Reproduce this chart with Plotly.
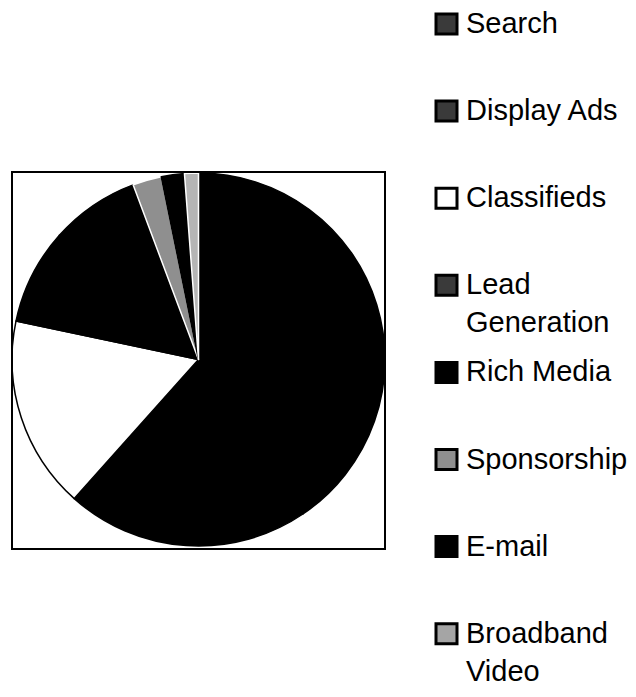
import plotly.graph_objects as go

labels = ["Search", "Display Ads", "Classifieds", "Lead Generation", "Rich Media",
          "Sponsorship", "E-mail", "Broadband Video"]
legend_text = ["Search", "Display Ads", "Classifieds", "Lead<br>Generation", "Rich Media",
               "Sponsorship", "E-mail", "Broadband<br>Video"]
values = [40.5, 21.1, 16.7, 8.3, 7.7, 2.5, 2.0, 1.2]
colors = ["#000000", "#000000", "#ffffff", "#000000", "#000000",
          "#8f8f8f", "#000000", "#b5b5b5"]
swatch_colors = ["#3a3a3a", "#3a3a3a", "#ffffff", "#3a3a3a", "#000000",
                 "#8f8f8f", "#000000", "#a5a5a5"]
edge_colors = ["#000000", "#000000", "#000000", "#000000", "#000000",
               "#ffffff", "#000000", "#ffffff"]

W, H = 636, 697
fig = go.Figure()
fig.add_trace(go.Pie(
    labels=labels, values=values, sort=False, direction="clockwise", rotation=0,
    marker=dict(colors=colors, line=dict(color=edge_colors, width=1.5)),
    textinfo="none", hoverinfo="label+percent", showlegend=False,
    domain=dict(x=[12 / W, 385 / W], y=[1 - 549 / H, 1 - 170 / H]),
))

shapes = [dict(type="rect", xref="paper", yref="paper",
               x0=12 / W, x1=385 / W, y0=1 - 549 / H, y1=1 - 172 / H,
               line=dict(color="black", width=2), fillcolor="rgba(0,0,0,0)")]
annotations = []
y_first, step = 24, 87.1
for i, (txt, col) in enumerate(zip(legend_text, swatch_colors)):
    yc = y_first + i * step
    shapes.append(dict(type="rect", xref="paper", yref="paper",
                       x0=436 / W, x1=457 / W, y0=1 - (yc + 10) / H, y1=1 - (yc - 10) / H,
                       line=dict(color="black", width=3), fillcolor=col))
    annotations.append(dict(xref="paper", yref="paper", x=464 / W, y=1 - (yc - 19) / H,
                            xanchor="left", yanchor="top", align="left", showarrow=False,
                            text=txt, font=dict(family="Liberation Sans, Arial", size=29,
                                                color="black")))

fig.update_layout(width=W, height=H, margin=dict(l=0, r=0, t=0, b=0),
                  paper_bgcolor="white", plot_bgcolor="white",
                  shapes=shapes, annotations=annotations)
fig.write_html("out.html")
